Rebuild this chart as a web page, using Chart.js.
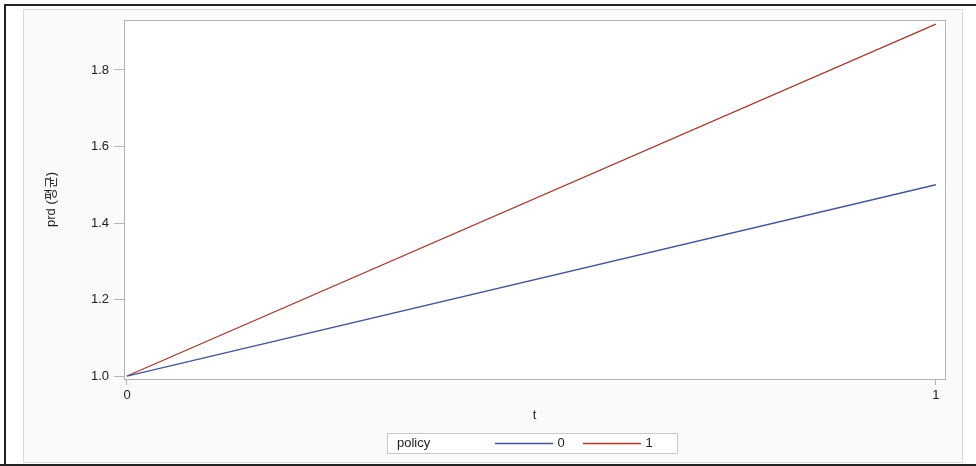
<!DOCTYPE html>
<html>
<head>
<meta charset="utf-8">
<script src="https://cdn.jsdelivr.net/npm/chart.js@4.4.0/dist/chart.umd.min.js"></script>
<style>
  html, body { margin: 0; padding: 0; background: #fff; }
  #wrap { width: 976px; height: 466px; }
</style>
</head>
<body>
<div id="wrap"><canvas id="chart" width="976" height="466"></canvas></div>
<script>
const tValues = [0, 1];
const policyLabels = ['0', '1'];
const policy0 = [1.0, 1.5];
const policy1 = [1.0, 1.92];
const yTicks = [1.0, 1.2, 1.4, 1.6, 1.8];
const xTicks = [0, 1];
const lineColors = ['#445694', '#A23A2E'];

const FONT = "'Liberation Sans', Arial, 'Noto Sans CJK KR', sans-serif";
const axisGrey = '#b4b4b4';

const frame = {
  id: 'frame',
  beforeDraw(chart) {
    const c = chart.ctx;
    const a = chart.chartArea;
    c.save();
    c.fillStyle = '#fff';
    c.fillRect(0, 0, chart.width, chart.height);
    // light panel
    c.fillStyle = '#fafafa';
    c.fillRect(23, 9, 939, 454);
    c.strokeStyle = '#d8d8d8';
    c.lineWidth = 1;
    c.strokeRect(23.5, 9.5, 939, 453);
    // dark outer border
    c.strokeStyle = '#222';
    c.lineWidth = 2;
    c.beginPath();
    c.moveTo(5, 466); c.lineTo(5, 5); c.lineTo(976, 5);
    c.moveTo(0, 465); c.lineTo(976, 465);
    c.stroke();
    // plot background
    c.fillStyle = '#fff';
    c.fillRect(a.left, a.top, a.right - a.left, a.bottom - a.top);
    c.restore();
  },
  afterDatasetsDraw(chart) {
    const c = chart.ctx;
    const a = chart.chartArea;
    c.save();
    c.strokeStyle = axisGrey;
    c.lineWidth = 1;
    c.strokeRect(a.left + 0.5, a.top + 0.5, a.right - a.left, a.bottom - a.top);
    c.restore();
  },
  afterDraw(chart) {
    // legend box: "policy  ——— 0  ——— 1"
    const c = chart.ctx;
    c.save();
    c.fillStyle = '#fff';
    c.fillRect(387, 433, 290, 20);
    c.strokeStyle = '#c8c8c8';
    c.lineWidth = 1;
    c.strokeRect(387.5, 433.5, 290, 20);
    c.font = '13px ' + FONT;
    c.fillStyle = '#222';
    c.textBaseline = 'middle';
    c.textAlign = 'left';
    c.fillText('policy', 397, 443.5);
    let x = 495;
    policyLabels.forEach((lab, i) => {
      c.strokeStyle = lineColors[i];
      c.lineWidth = 1.3;
      c.beginPath();
      c.moveTo(x, 443.5);
      c.lineTo(x + 58, 443.5);
      c.stroke();
      c.fillStyle = '#222';
      c.textAlign = 'center';
      c.fillText(lab, x + 66, 443.5);
      x += 88;
    });
    c.restore();
  }
};

new Chart(document.getElementById('chart'), {
  type: 'line',
  data: {
    datasets: [
      { label: policyLabels[0], data: tValues.map((t, i) => ({ x: t, y: policy0[i] })), borderColor: lineColors[0], borderWidth: 1.3, pointRadius: 0, tension: 0 },
      { label: policyLabels[1], data: tValues.map((t, i) => ({ x: t, y: policy1[i] })), borderColor: lineColors[1], borderWidth: 1.3, pointRadius: 0, tension: 0 }
    ]
  },
  options: {
    responsive: false,
    animation: false,
    layout: { padding: { left: 0, right: 31, top: 20, bottom: 42 } },
    plugins: { legend: { display: false }, tooltip: { enabled: false } },
    scales: {
      x: {
        type: 'linear',
        min: -0.0037,
        max: 1.0113,
        afterBuildTicks: s => { s.ticks = xTicks.map(v => ({ value: v })); },
        afterFit: s => { s.height = 45; },
        ticks: { color: '#222', font: { size: 13, family: FONT }, padding: 3, maxRotation: 0,
                 callback: v => String(v) },
        grid: { drawOnChartArea: false, drawTicks: true, tickLength: 6, color: axisGrey },
        border: { color: axisGrey },
        title: { display: true, text: 't', color: '#222', font: { size: 13, family: FONT }, padding: { top: 0, bottom: 1 } }
      },
      y: {
        type: 'linear',
        min: 0.9922,
        max: 1.9307,
        afterBuildTicks: s => { s.ticks = yTicks.map(v => ({ value: v })); },
        afterFit: s => { s.width = 124; },
        ticks: { color: '#222', font: { size: 13, family: FONT }, padding: 5,
                 callback: v => Number(v).toFixed(1) },
        grid: { drawOnChartArea: false, drawTicks: true, tickLength: 10, color: axisGrey },
        border: { color: axisGrey },
        title: { display: true, text: 'prd (평균)', color: '#222', font: { size: 13, family: FONT }, padding: { top: 44, bottom: 0 } }
      }
    }
  },
  plugins: [frame]
});
</script>
</body>
</html>
